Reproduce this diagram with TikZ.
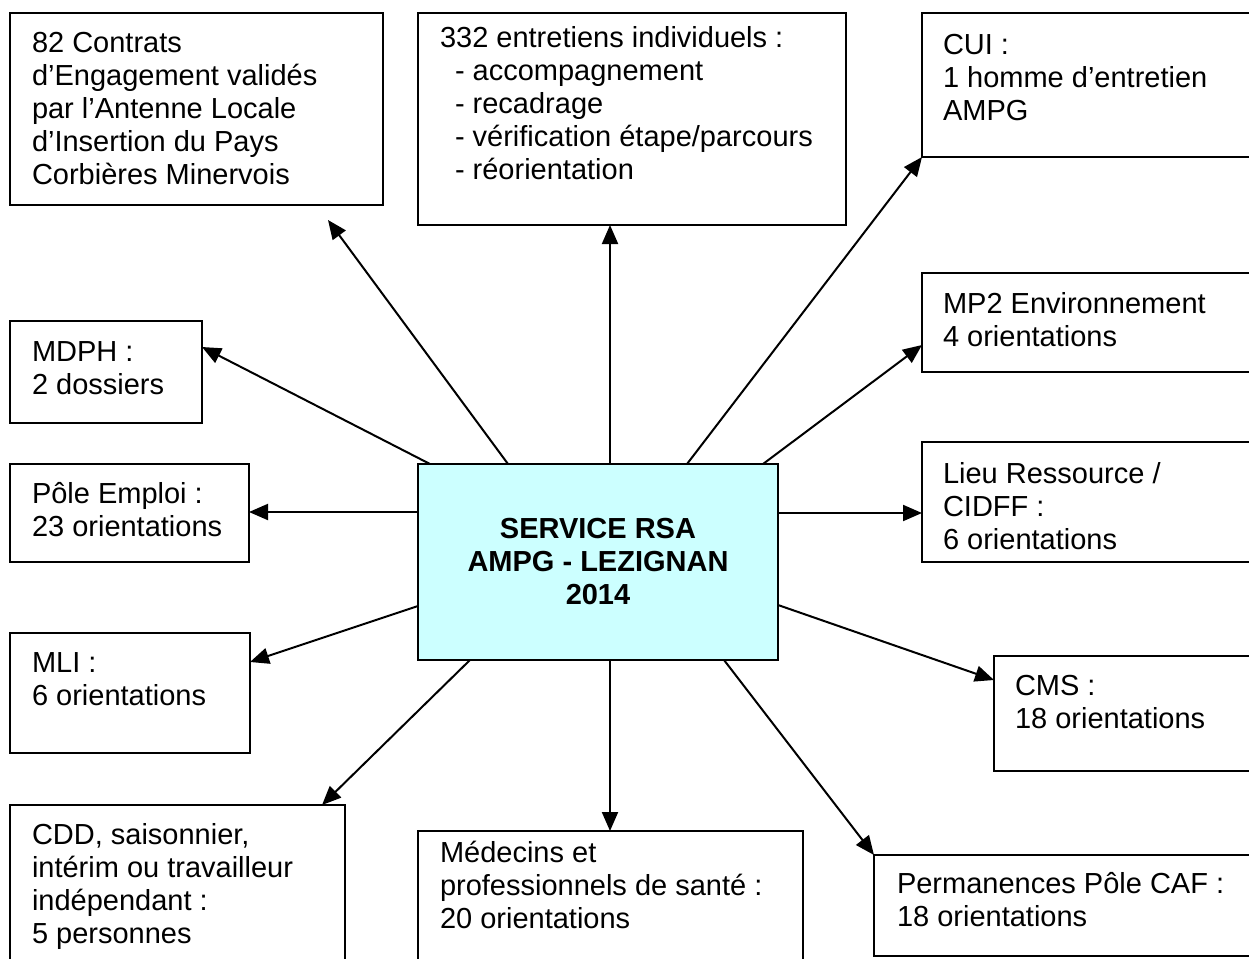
\documentclass[tikz,border=0pt]{standalone}
\usepackage{fontspec}
\setmainfont{Liberation Sans}
\usetikzlibrary{arrows.meta,calc}
\definecolor{centerfill}{HTML}{CCFFFF}
\begin{document}
\begin{tikzpicture}[x=1pt,y=-1pt,
  box/.style={draw, line width=2pt, inner sep=0pt, outer sep=0pt, anchor=north west},
  txt/.style={inner sep=0pt, outer sep=0pt, anchor=north west, align=left, font=\fontsize{29}{33}\selectfont},
  arr/.style={line width=2pt, -{Triangle[length=19pt,width=16pt]}}]
\useasboundingbox (0,0) rectangle (1249,958);
\clip (0,0) rectangle (1249,958);

% boxes
\node[box, minimum width=373pt, minimum height=192pt] (b1) at (10,13) {};
\node[box, minimum width=428pt, minimum height=212pt] (b2) at (418,13) {};
\node[box, minimum width=338pt, minimum height=144pt] (cui) at (922,13) {};
\node[box, minimum width=192pt, minimum height=102pt] (mdph) at (10,321) {};
\node[box, minimum width=338pt, minimum height=99pt] (mp2) at (922,273) {};
\node[box, minimum width=239pt, minimum height=98pt] (pole) at (10,464) {};
\node[box, minimum width=338pt, minimum height=120pt] (lieu) at (922,442) {};
\node[box, minimum width=360pt, minimum height=196pt, fill=centerfill, align=center,
      font=\fontsize{29}{33}\selectfont\bfseries] (c) at (418,464) {SERVICE RSA\\AMPG - LEZIGNAN\\2014};
\node[box, minimum width=240pt, minimum height=120pt] (mli) at (10,633) {};
\node[box, minimum width=266pt, minimum height=115pt] (cms) at (994,656) {};
\node[box, minimum width=335pt, minimum height=175pt] (cdd) at (10,805) {};
\node[box, minimum width=385pt, minimum height=149pt] (med) at (418,831) {};
\node[box, minimum width=386pt, minimum height=101pt] (perm) at (874,855) {};

% texts
\node[txt] (b1t) at ($(b1.north west)+(22,15.9)$) {\strut 82 Contrats\\d’Engagement validés\\par l’Antenne Locale\\d’Insertion du Pays\\Corbières Minervois};
\node[txt] (b2t) at ($(b2.north west)+(22,10.9)$) {\strut 332 entretiens individuels :\\\hspace*{15pt}- accompagnement\\\hspace*{15pt}- recadrage\\\hspace*{15pt}- vérification étape/parcours\\\hspace*{15pt}- réorientation};
\node[txt] (cuit) at ($(cui.north west)+(21,17.9)$) {\strut CUI :\\1 homme d’entretien\\AMPG};
\node[txt] (mdpht) at ($(mdph.north west)+(22,16.9)$) {\strut MDPH :\\2 dossiers};
\node[txt] (mp2t) at ($(mp2.north west)+(21,16.9)$) {\strut MP2 Environnement\\4 orientations};
\node[txt] (polet) at ($(pole.north west)+(22,15.9)$) {\strut Pôle Emploi :\\23 orientations};
\node[txt] (lieut) at ($(lieu.north west)+(21,17.9)$) {\strut Lieu Ressource /\\CIDFF :\\6 orientations};
\node[txt] (mlit) at ($(mli.north west)+(22,15.9)$) {\strut MLI :\\6 orientations};
\node[txt] (cmst) at ($(cms.north west)+(21,15.9)$) {\strut CMS :\\18 orientations};
\node[txt] (cddt) at ($(cdd.north west)+(22,15.9)$) {\strut CDD, saisonnier,\\intérim ou travailleur\\indépendant :\\5 personnes};
\node[txt] (medt) at ($(med.north west)+(22,7.9)$) {\strut Médecins et\\professionnels de santé :\\20 orientations};
\node[txt] (permt) at ($(perm.north west)+(23,14.9)$) {\strut Permanences Pôle CAF :\\18 orientations};

% connectors
\draw[arr] ($(c.north west)+(90,0)$) -- ($(b1.south west)+(318,15)$);
\draw[arr] ($(c.north west)+(192,0)$) -- ($(b2.south west)+(192,0)$);
\draw[arr] ($(c.north west)+(269,0)$) -- (cui.south west);
\draw[arr] ($(c.north west)+(12,0)$) -- ($(mdph.north east)+(0,26)$);
\draw[arr] ($(c.north west)+(345,0)$) -- ($(mp2.north west)+(0,72)$);
\draw[arr] ($(c.north west)+(0,48)$) -- ($(pole.north east)+(0,48)$);
\draw[arr] ($(c.north east)+(0,49)$) -- ($(lieu.north west)+(0,71)$);
\draw[arr] ($(c.north west)+(0,142)$) -- ($(mli.north east)+(0,29)$);
\draw[arr] ($(c.north east)+(0,141)$) -- ($(cms.north west)+(0,24)$);
\draw[arr] ($(c.south west)+(306,0)$) -- (perm.north west);
\draw[arr] ($(c.south west)+(192,0)$) -- ($(med.north west)+(192,0)$);
\draw[arr] ($(c.south west)+(52,0)$) -- ($(cdd.north west)+(312,0)$);
\end{tikzpicture}
\end{document}
